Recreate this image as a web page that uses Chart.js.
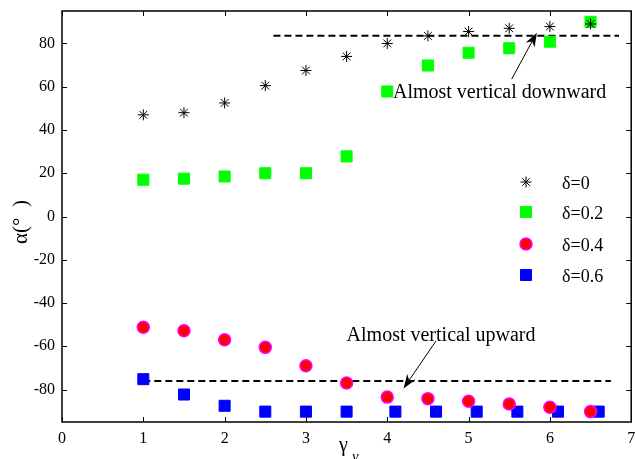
<!DOCTYPE html>
<html>
<head>
<meta charset="utf-8">
<script src="https://cdn.jsdelivr.net/npm/chart.js@4/dist/chart.umd.min.js"></script>
<style>
  html, body { margin: 0; padding: 0; background: #fff; overflow: hidden; }
  #wrap { width: 640px; height: 459px; }
</style>
</head>
<body>
<div id="wrap"><canvas id="alphaChart"></canvas></div>
<script>
// gamma_v values
const gammaX = [1, 1.5, 2, 2.5, 3, 3.5, 4, 4.5, 5, 5.5, 6, 6.5];
const gammaXShift = [1, 1.5, 2, 2.5, 3, 3.5, 4.1, 4.6, 5.1, 5.6, 6.1, 6.6];

// alpha (deg) per delta
const alphaD0  = [47, 48, 52.5, 60.5, 67.5, 74, 80, 83.5, 85.5, 87, 87.8, 89];
const alphaD02 = [17, 17.5, 18.5, 20, 20, 27.8, 57.8, 69.8, 75.7, 77.8, 80.8, 90];
const alphaD04 = [-51.2, -52.8, -57, -60.5, -69, -77, -83.5, -84.2, -85.4, -86.7, -88.2, -90.2];
const alphaD06 = [-75.2, -82.3, -87.5, -90.2, -90.2, -90.2, -90.2, -90.2, -90.2, -90.2, -90.2, -90.2];

// dashed reference lines
const upperLineX = [2.6, 6.85];
const upperLineY = [83.6, 83.6];
const lowerLineX = [1, 6.75];
const lowerLineY = [-76, -76];

const yTicks = [-80, -60, -40, -20, 0, 20, 40, 60, 80];
const legendLabels = ["δ=0", "δ=0.2", "δ=0.4", "δ=0.6"];

// annotations: text anchor + arrow tail -> head (data units)
const notes = [
    { text: "Almost vertical downward", x: 4.07, y: 57, tail: [5.53, 63.5], head: [5.84, 85] },
    { text: "Almost vertical upward", x: 3.5, y: -55, tail: [4.6, -57.5], head: [4.2, -79.5] }
];

const serif = "'Liberation Serif', 'DejaVu Serif', serif";

function pts(xs, ys) {
    return xs.map((x, i) => ({ x: x, y: ys[i] }));
}

const frameAndExtras = {
    id: "frameAndExtras",
    afterDatasetsDraw(chart) {
        const ctx = chart.ctx;
        const a = chart.chartArea;
        const xs = chart.scales.x, ys = chart.scales.y;
        ctx.save();

        // box
        ctx.strokeStyle = "#000";
        ctx.lineWidth = 1.5;
        ctx.strokeRect(a.left, a.top, a.right - a.left, a.bottom - a.top);

        // inward ticks on all sides
        ctx.lineWidth = 1;
        ctx.beginPath();
        xs.ticks.forEach(t => {
            const px = Math.round(xs.getPixelForValue(t.value)) + 0.5;
            ctx.moveTo(px, a.bottom); ctx.lineTo(px, a.bottom - 5);
            ctx.moveTo(px, a.top); ctx.lineTo(px, a.top + 5);
        });
        ys.ticks.forEach(t => {
            const py = Math.round(ys.getPixelForValue(t.value)) + 0.5;
            ctx.moveTo(a.left, py); ctx.lineTo(a.left + 5, py);
            ctx.moveTo(a.right, py); ctx.lineTo(a.right - 5, py);
        });
        ctx.stroke();

        // annotations
        ctx.fillStyle = "#000";
        ctx.font = "20px " + serif;
        ctx.textBaseline = "middle";
        ctx.textAlign = "left";
        notes.forEach(n => {
            ctx.fillText(n.text, xs.getPixelForValue(n.x), ys.getPixelForValue(n.y));
            const x1 = xs.getPixelForValue(n.tail[0]), y1 = ys.getPixelForValue(n.tail[1]);
            const x2 = xs.getPixelForValue(n.head[0]), y2 = ys.getPixelForValue(n.head[1]);
            const ang = Math.atan2(y2 - y1, x2 - x1);
            ctx.lineWidth = 1;
            ctx.beginPath();
            ctx.moveTo(x1, y1);
            ctx.lineTo(x2 - 10 * Math.cos(ang), y2 - 10 * Math.sin(ang));
            ctx.stroke();
            ctx.beginPath();
            ctx.moveTo(x2, y2);
            ctx.lineTo(x2 - 14 * Math.cos(ang) + 5 * Math.sin(ang), y2 - 14 * Math.sin(ang) - 5 * Math.cos(ang));
            ctx.lineTo(x2 - 10 * Math.cos(ang), y2 - 10 * Math.sin(ang));
            ctx.lineTo(x2 - 14 * Math.cos(ang) - 5 * Math.sin(ang), y2 - 14 * Math.sin(ang) + 5 * Math.cos(ang));
            ctx.closePath();
            ctx.fill();
        });

        // legend
        const lx = 526, tx = 562, ly = [182, 212, 244, 275];
        ctx.font = "18px " + serif;
        legendLabels.forEach((lab, i) => {
            const ds = chart.data.datasets[i];
            ctx.fillStyle = ds.pointBackgroundColor;
            ctx.strokeStyle = ds.pointBorderColor;
            ctx.lineWidth = ds.borderWidth;
            Chart.helpers.drawPoint(ctx, {
                pointStyle: ds.pointStyle,
                radius: ds.pointRadius,
                borderWidth: ds.borderWidth,
                rotation: 0
            }, lx, ly[i]);
            ctx.fillStyle = "#000";
            ctx.fillText(lab, tx, ly[i] + 2);
        });

        // axis titles
        ctx.font = "21px " + serif;
        ctx.save();
        ctx.translate(21, 222);
        ctx.rotate(-Math.PI / 2);
        ctx.textAlign = "center";
        ctx.fillText("α(°  )", 0, 0);
        ctx.restore();
        ctx.textAlign = "left";
        ctx.font = "20px " + serif;
        ctx.fillText("γ", 339, 446);
        ctx.font = "italic 15px " + serif;
        ctx.fillText("ν", 352, 457);

        ctx.restore();
    }
};

function markerSet(label, xs, ys, style, r, fill, edge, bw) {
    return {
        label: label,
        data: pts(xs, ys),
        showLine: false,
        pointStyle: style,
        pointRadius: r,
        pointHoverRadius: r,
        pointBackgroundColor: fill,
        pointBorderColor: edge,
        borderColor: edge,
        backgroundColor: fill,
        borderWidth: bw,
        pointBorderWidth: bw
    };
}

function dashSet(xs, ys) {
    return {
        data: pts(xs, ys),
        showLine: true,
        borderColor: "#000",
        borderWidth: 2,
        borderDash: [7, 4],
        pointRadius: 0,
        fill: false
    };
}

new Chart(document.getElementById("alphaChart"), {
    type: "scatter",
    data: {
        datasets: [
            markerSet("δ=0", gammaX, alphaD0, "star", 5.5, "#000", "#000", 1),
            markerSet("δ=0.2", gammaX, alphaD02, "rect", 7.8, "#00ff00", "#00ff00", 1),
            markerSet("δ=0.4", gammaX, alphaD04, "circle", 6, "#ff0000", "#ff00ff", 1.5),
            markerSet("δ=0.6", gammaXShift, alphaD06, "rect", 7.8, "#0000ff", "#0000ff", 1),
            dashSet(upperLineX, upperLineY),
            dashSet(lowerLineX, lowerLineY)
        ]
    },
    options: {
        responsive: true,
        maintainAspectRatio: false,
        animation: false,
        layout: { padding: { top: 11, right: 0, left: 0, bottom: 0 } },
        plugins: {
            legend: { display: false },
            tooltip: { enabled: false }
        },
        scales: {
            x: {
                type: "linear",
                min: 0,
                max: 7,
                ticks: { stepSize: 1, color: "#000", padding: 7, font: { family: serif, size: 16 } },
                grid: { display: false, drawTicks: false },
                border: { display: false },
                afterFit: s => { s.height = 37; s.paddingLeft = 0; s.paddingRight = 0; }
            },
            y: {
                min: -95,
                max: 95,
                afterBuildTicks: s => { s.ticks = yTicks.map(v => ({ value: v })); },
                ticks: { color: "#000", padding: 7, font: { family: serif, size: 16 } },
                grid: { display: false, drawTicks: false },
                border: { display: false },
                afterFit: s => { s.width = 62; s.paddingTop = 0; s.paddingBottom = 0; }
            }
        }
    },
    plugins: [frameAndExtras]
});
</script>
</body>
</html>
